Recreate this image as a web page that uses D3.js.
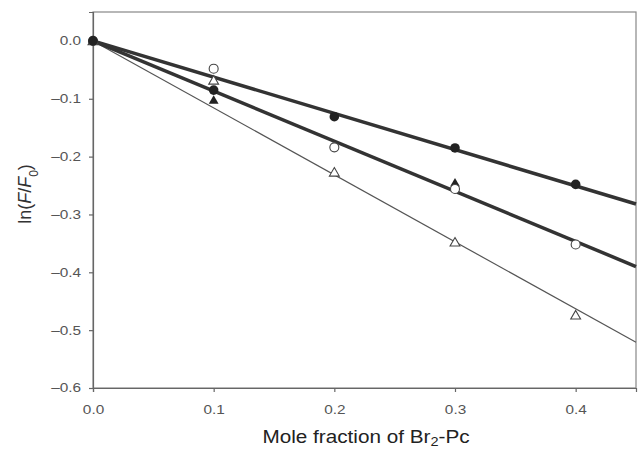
<!DOCTYPE html>
<html>
<head>
<meta charset="utf-8">
<script src="https://cdn.jsdelivr.net/npm/d3@7"></script>
<style>
  body { margin: 0; background: #fff; }
  #chart { width: 640px; height: 452px; }
</style>
</head>
<body>
<div id="chart"></div>
<script>
// mole fractions
const xs = [0, 0.1, 0.2, 0.3, 0.4];

// ln(F/F0) values
const filledCircles = [0, -0.085, -0.131, -0.185, -0.248];
const openCircles = [0, -0.048, -0.184, -0.256, -0.352];
const openTriangles = [0, -0.068, -0.227, -0.348, -0.474];
const filledTriangleX = [0.1, 0.3];
const filledTriangles = [-0.102, -0.245];

// fitted lines: value at x = 0 and at x = 0.45
const fitX = [0, 0.45];
const fitFilledCircles = [0, -0.282];
const fitOpenCircles = [0, -0.390];
const fitOpenTriangles = [0, -0.521];

const xTicks = [0, 0.1, 0.2, 0.3, 0.4];
const yTicks = [0, -0.1, -0.2, -0.3, -0.4, -0.5, -0.6];

const font = "Liberation Sans, Arial, sans-serif";

function drawChart() {
  const container = d3.select("#chart");
  container.selectAll("*").remove();

  const width = 640;
  const height = 452;
  const margin = { top: 12, right: 4, bottom: 64, left: 93 };

  const svg = container.append("svg")
    .attr("width", width)
    .attr("height", height);

  const x = d3.scaleLinear()
    .domain([0, 0.45])
    .range([margin.left, width - margin.right]);

  const y = d3.scaleLinear()
    .domain([-0.6, 0.05])
    .range([height - margin.bottom, margin.top]);

  // frame
  svg.append("rect")
    .attr("x", x(0))
    .attr("y", y(0.05))
    .attr("width", x(0.45) - x(0))
    .attr("height", y(-0.6) - y(0.05))
    .attr("fill", "none")
    .attr("stroke", "#888")
    .attr("stroke-width", 1.2);

  const fmt = d => d3.format(".1f")(d).replace("−", "–");
  const sx = 1.28; // tick labels in the picture are set wide

  const xAxis = svg.append("g")
    .attr("transform", `translate(0,${y(-0.6)})`)
    .call(d3.axisBottom(x).tickValues(xTicks).tickFormat(fmt).tickSize(4).tickPadding(13));

  const yAxis = svg.append("g")
    .attr("transform", `translate(${x(0)},0)`)
    .call(d3.axisLeft(y).tickValues(yTicks).tickFormat(fmt).tickSize(4).tickPadding(9));

  [xAxis, yAxis].forEach(g => {
    g.select(".domain").attr("stroke", "#666").attr("stroke-width", 1.2);
    g.selectAll(".tick line").attr("stroke", "#666").attr("stroke-width", 1.2);
    g.selectAll(".tick text")
      .attr("fill", "#555")
      .style("font-family", font)
      .style("font-size", "12px");
  });
  xAxis.selectAll(".tick text").attr("transform", `scale(${sx},1)`);
  yAxis.selectAll(".tick text")
    .attr("x", -12 / sx)
    .attr("transform", `scale(${sx},1)`);

  const line = d3.line()
    .x(d => x(d[0]))
    .y(d => y(d[1]));

  const fits = [
    { v: fitOpenTriangles, w: 1.2 },
    { v: fitOpenCircles, w: 3.5 },
    { v: fitFilledCircles, w: 3.5 }
  ];
  fits.forEach(f => {
    svg.append("path")
      .datum(fitX.map((d, i) => [d, f.v[i]]))
      .attr("fill", "none")
      .attr("stroke", f.w > 2 ? "#333" : "#555")
      .attr("stroke-width", f.w)
      .attr("d", line);
  });

  const tri = d3.symbol().type(d3.symbolTriangle).size(42);

  // open triangles
  svg.append("g").selectAll("path")
    .data(xs.map((d, i) => [d, openTriangles[i]]))
    .join("path")
    .attr("transform", d => `translate(${x(d[0])},${y(d[1]) + 1})`)
    .attr("d", tri)
    .attr("fill", "#fff")
    .attr("stroke", "#444")
    .attr("stroke-width", 1.1);

  // filled triangles
  svg.append("g").selectAll("path")
    .data(filledTriangleX.map((d, i) => [d, filledTriangles[i]]))
    .join("path")
    .attr("transform", d => `translate(${x(d[0])},${y(d[1]) + 1})`)
    .attr("d", tri)
    .attr("fill", "#222");

  // open circles
  svg.append("g").selectAll("circle")
    .data(xs.map((d, i) => [d, openCircles[i]]))
    .join("circle")
    .attr("cx", d => x(d[0]))
    .attr("cy", d => y(d[1]))
    .attr("r", 4.5)
    .attr("fill", "#fff")
    .attr("stroke", "#444")
    .attr("stroke-width", 1.1);

  // filled circles
  svg.append("g").selectAll("circle")
    .data(xs.map((d, i) => [d, filledCircles[i]]))
    .join("circle")
    .attr("cx", d => x(d[0]))
    .attr("cy", d => y(d[1]))
    .attr("r", 4.8)
    .attr("fill", "#222");

  // axis titles
  const yLabel = svg.append("text")
    .attr("transform", `translate(31,194) rotate(-90)`)
    .attr("text-anchor", "middle")
    .attr("fill", "#333")
    .style("font-family", font)
    .style("font-size", "18px");
  yLabel.append("tspan").text("ln(");
  yLabel.append("tspan").attr("font-style", "italic").text("F");
  yLabel.append("tspan").text("/");
  yLabel.append("tspan").attr("font-style", "italic").text("F");
  yLabel.append("tspan").attr("baseline-shift", "sub").attr("font-size", "12px").text("0");
  yLabel.append("tspan").text(")");

  const xLabel = svg.append("text")
    .attr("x", 0)
    .attr("y", 0)
    .attr("transform", `translate(366,443) scale(1.12,1)`)
    .attr("text-anchor", "middle")
    .attr("fill", "#222")
    .style("font-family", font)
    .style("font-size", "18.5px");
  xLabel.append("tspan").text("Mole fraction of Br");
  xLabel.append("tspan").attr("baseline-shift", "-3").attr("font-size", "13px").text("2");
  xLabel.append("tspan").text("-Pc");
}

drawChart();
</script>
</body>
</html>
